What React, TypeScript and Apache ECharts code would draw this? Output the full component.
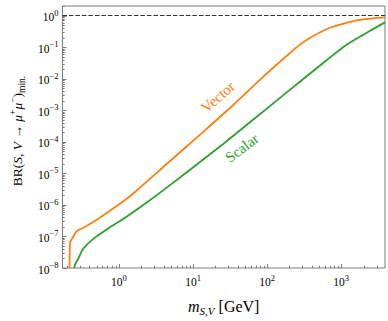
import React, { useEffect, useRef } from "react";
import * as echarts from "echarts";

// Axis ranges
const X_MIN = 0.173;
const X_MAX = 3900;
const Y_MIN = 1e-8;
const Y_MAX = 2;

// Vector curve (m in GeV, BR)
const vectorMass = [0.215, 0.2165, 0.219, 0.243, 0.269, 0.328, 0.443, 0.733, 1.21, 1.71, 4.65, 12.7, 28.4, 94.6, 182, 259, 386, 706, 1290, 1930, 3900];
const vectorBR = [1e-8, 3e-8, 6.2e-8, 1.0e-7, 1.48e-7, 1.86e-7, 2.8e-7, 6.2e-7, 1.42e-6, 2.76e-6, 2.2e-5, 1.75e-4, 9.4e-4, 0.0132, 0.0514, 0.105, 0.2, 0.409, 0.62, 0.75, 0.87];

// Scalar curve
const scalarMass = [0.248, 0.26, 0.282, 0.328, 0.443, 0.733, 1.21, 2.45, 4.65, 12.7, 28.4, 110, 285, 640, 1170, 2360, 3900];
const scalarBR = [1e-8, 1.4e-8, 1.95e-8, 4.0e-8, 8.1e-8, 1.86e-7, 3.89e-7, 1.25e-6, 3.86e-6, 2.38e-5, 1.04e-4, 1.37e-3, 8.42e-3, 0.0389, 0.117, 0.312, 0.607];

// Reference level (dashed)
const refLevel = 1;

// Tick decades
const xDecades = [-1, 0, 1, 2, 3];
const yDecades = [-8, -7, -6, -5, -4, -3, -2, -1, 0];

const SERIF = "'Liberation Serif', 'DejaVu Serif', serif";
const FRAME = "#7a7a7a";
const ORANGE = "#ff7f0e";
const GREEN = "#2ca02c";

function buildTicks(decades: number[], lo: number, hi: number) {
  const out: [number, number][] = [];
  decades.forEach((d) => {
    for (let k = 1; k <= 9; k++) {
      const v = k * Math.pow(10, d);
      if (v >= lo * 0.9999 && v <= hi * 1.0001) out.push([v, k === 1 ? 1 : 0]);
    }
  });
  return out;
}

function fmtPow(v: number) {
  const l = Math.log10(v);
  const e = Math.round(l);
  if (Math.abs(l - e) > 1e-6) return "";
  const es = e < 0 ? "−" + -e : String(e);
  return `{b|10}{e|${es}}`;
}

const tickRich = {
  b: { fontFamily: SERIF, fontSize: 11.5, color: "#000", lineHeight: 15, verticalAlign: "bottom" },
  e: { fontFamily: SERIF, fontSize: 8.5, color: "#000", lineHeight: 9, verticalAlign: "top" },
};

export default function App() {
  const ref = useRef<HTMLDivElement>(null);
  useEffect(() => {
    if (!ref.current) return;
    const chart = echarts.init(ref.current, undefined, { renderer: "svg" });
    const xTicks = buildTicks(xDecades, X_MIN, X_MAX).map(([v, m]) => [v, Y_MIN, m]);
    const yTicks = buildTicks(yDecades, Y_MIN, Y_MAX).map(([v, m]) => [X_MIN, v, m]);

    const option: any = {
      animation: false,
      grid: {
        left: 54,
        top: 6,
        width: 333,
        height: 266,
        show: true,
        borderColor: FRAME,
        borderWidth: 1,
        backgroundColor: "transparent",
      },
      xAxis: {
        type: "log",
        logBase: 10,
        min: X_MIN,
        max: X_MAX,
        splitNumber: 5,
        axisLine: { show: false },
        axisTick: { show: false },
        splitLine: { show: false },
        axisLabel: { formatter: fmtPow, margin: 5, rich: tickRich },
        name: "{i|m}{s|S,V}{r| [GeV]}",
        nameLocation: "middle",
        nameGap: 28,
        nameTextStyle: {
          rich: {
            i: { fontFamily: SERIF, fontStyle: "italic", fontSize: 16, color: "#000", lineHeight: 20, verticalAlign: "middle" },
            s: { fontFamily: SERIF, fontStyle: "italic", fontSize: 11, color: "#000", lineHeight: 11, verticalAlign: "bottom" },
            r: { fontFamily: SERIF, fontSize: 16, color: "#000", lineHeight: 20, verticalAlign: "middle" },
          },
        },
      },
      yAxis: {
        type: "log",
        logBase: 10,
        min: Y_MIN,
        max: Y_MAX,
        splitNumber: 10,
        axisLine: { show: false },
        axisTick: { show: false },
        splitLine: { show: false },
        axisLabel: { formatter: fmtPow, margin: 4, rich: tickRich },
        name: "{r|BR(}{i|S}{r|, }{i|V}{r| → }{i|μ}{s|+}{i|μ}{s|−}{r|)}{b|min.}",
        nameLocation: "middle",
        nameRotate: 90,
        nameGap: 30,
        nameTextStyle: {
          padding: [0, 0, 0, 12],
          rich: {
            r: { fontFamily: SERIF, fontSize: 13.5, color: "#000", lineHeight: 19, verticalAlign: "middle" },
            i: { fontFamily: SERIF, fontStyle: "italic", fontSize: 13.5, color: "#000", lineHeight: 19, verticalAlign: "middle" },
            s: { fontFamily: SERIF, fontSize: 9.5, color: "#000", lineHeight: 9, verticalAlign: "top" },
            b: { fontFamily: SERIF, fontSize: 9.5, color: "#000", lineHeight: 9, verticalAlign: "bottom" },
          },
        },
      },
      series: [
        {
          type: "line",
          data: [
            [X_MIN, refLevel],
            [X_MAX, refLevel],
          ],
          symbol: "none",
          lineStyle: { color: "#333", width: 1, type: [4.5, 2] },
          silent: true,
          z: 1,
        },
        {
          name: "Vector",
          type: "line",
          data: vectorMass.map((m, i) => [m, vectorBR[i]]),
          symbol: "none",
          smooth: 0.25,
          lineStyle: { color: ORANGE, width: 1.8 },
          z: 3,
        },
        {
          name: "Scalar",
          type: "line",
          data: scalarMass.map((m, i) => [m, scalarBR[i]]),
          symbol: "none",
          smooth: 0.25,
          lineStyle: { color: GREEN, width: 1.8 },
          z: 3,
        },
        {
          type: "custom",
          data: xTicks,
          encode: { x: 0, y: 1 },
          clip: false,
          silent: true,
          z: 5,
          renderItem: (params: any, api: any) => {
            const p = api.coord([api.value(0), api.value(1)]);
            const cs = params.coordSys;
            const bottom = cs.y + cs.height;
            const len = api.value(2) ? 4 : 2.2;
            const x = Math.round(p[0]) + 0.5;
            return {
              type: "line",
              shape: { x1: x, y1: bottom, x2: x, y2: bottom - len },
              style: { stroke: FRAME, lineWidth: 1 },
            };
          },
        },
        {
          type: "custom",
          data: yTicks,
          encode: { x: 0, y: 1 },
          clip: false,
          silent: true,
          z: 5,
          renderItem: (params: any, api: any) => {
            const p = api.coord([api.value(0), api.value(1)]);
            const cs = params.coordSys;
            const left = cs.x;
            const len = api.value(2) ? 4 : 2.2;
            const y = Math.round(p[1]) + 0.5;
            return {
              type: "line",
              shape: { x1: left, y1: y, x2: left + len, y2: y },
              style: { stroke: FRAME, lineWidth: 1 },
            };
          },
        },
      ],
      graphic: [
        {
          type: "text",
          x: 218,
          y: 97,
          rotation: (41 * Math.PI) / 180,
          style: {
            text: "Vector",
            fill: ORANGE,
            font: `15px ${SERIF}`,
            align: "center",
            verticalAlign: "middle",
          },
        },
        {
          type: "text",
          x: 242,
          y: 148,
          rotation: (37 * Math.PI) / 180,
          style: {
            text: "Scalar",
            fill: GREEN,
            font: `15px ${SERIF}`,
            align: "center",
            verticalAlign: "middle",
          },
        },
      ],
    };
    chart.setOption(option);
    return () => chart.dispose();
  }, []);
  return (
    <div
      ref={ref}
      style={{ position: "fixed", left: 0, top: 0, width: 388, height: 321, background: "#fff" }}
    />
  );
}
